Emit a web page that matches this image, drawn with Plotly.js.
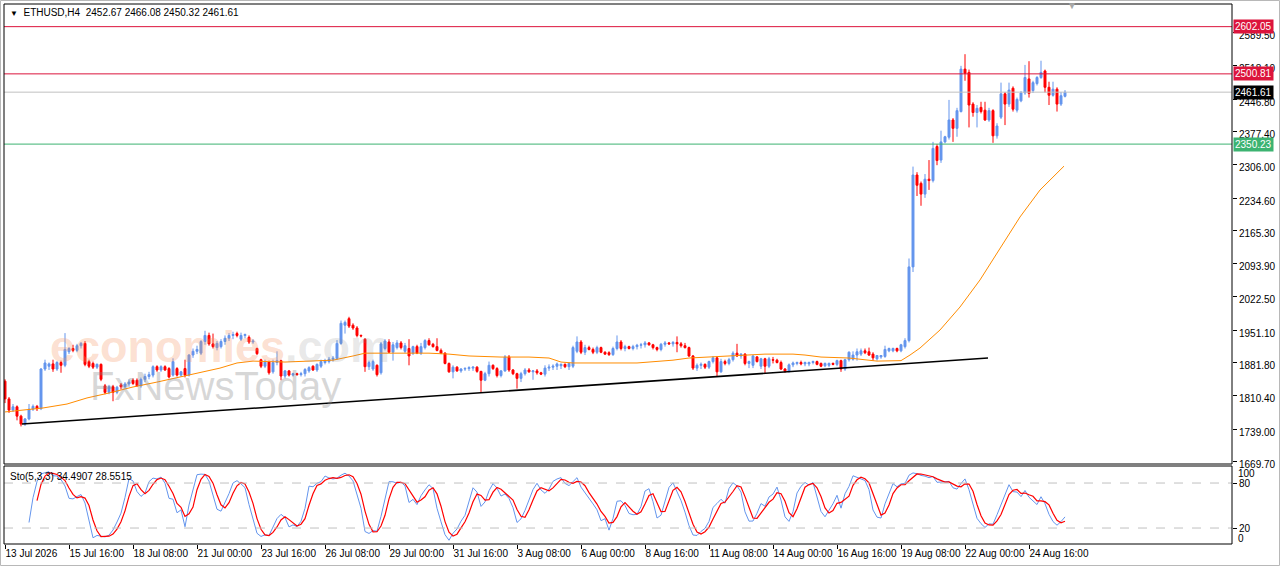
<!DOCTYPE html>
<html><head><meta charset="utf-8">
<script src="https://cdn.plot.ly/plotly-3.0.1.min.js"></script>
<style>html,body{margin:0;padding:0;background:#fff}#chart{width:1280px;height:567px}</style>
</head><body><div id="chart"></div>
<script>
// ---- data (ETHUSD H4 candles, index 0 = 13 Jul 2026 00:00) ----
const openP = [1842,1804,1780,1787,1767,1750,1761,1782,1788,1783,1868,1874,1879,1868,1882,1876,1905,1912,1908,1918,
1923,1884,1880,1872,1878,1832,1818,1830,1818,1834,1830,1836,1844,1844,1832,1846,1852,1855,1873,1866,
1873,1869,1855,1869,1855,1869,1855,1898,1906,1902,1927,1940,1922,1914,1916,1927,1934,1940,1944,1932,
1940,1936,1926,1912,1888,1874,1884,1862,1882,1886,1853,1864,1855,1858,1856,1858,1864,1874,1866,1874,
1882,1884,1889,1891,1923,1962,1976,1962,1956,1940,1932,1873,1868,1876,1860,1912,1926,1904,1914,1924,
1906,1912,1902,1916,1902,1914,1929,1921,1916,1908,1902,1880,1862,1872,1864,1868,1869,1870,1872,1863,
1844,1858,1876,1869,1854,1864,1894,1866,1858,1848,1858,1866,1862,1864,1860,1857,1870,1872,1874,1875,
1878,1873,1874,1906,1926,1904,1914,1910,1904,1914,1904,1903,1899,1912,1926,1912,1916,1912,1916,1919,
1920,1924,1920,1914,1910,1921,1924,1922,1925,1922,1918,1914,1896,1870,1876,1878,1872,1884,1892,1862,
1884,1880,1888,1902,1896,1900,1880,1876,1894,1874,1890,1874,1888,1887,1882,1868,1863,1877,1880,1882,
1879,1879,1882,1884,1880,1875,1876,1880,1878,1886,1868,1888,1889,1898,1900,1907,1905,1900,1890,1894,
1895,1907,1907,1912,1907,1916,1929,2087,2284,2266,2243,2275,2272,2345,2316,2355,2365,2402,2384,2420,
2511,2504,2436,2418,2429,2423,2402,2422,2368,2408,2458,2436,2470,2423,2443,2460,2490,2465,2480,2493,
2507,2472,2455,2468,2436,2452.67];
const highP = [1846,1808,1793,1790,1770,1763,1793,1792,1791,1870,1888,1882,1888,1885,1886,1945,1915,1920,1922,1926,
1928,1888,1884,1880,1880,1836,1834,1834,1832,1838,1840,1846,1848,1848,1850,1858,1862,1876,1876,1876,
1876,1872,1891,1872,1864,1888,1900,1912,1918,1930,1950,1946,1944,1928,1932,1940,1945,1948,1948,1946,
1944,1940,1932,1914,1890,1888,1886,1888,1906,1888,1866,1866,1860,1860,1862,1870,1874,1876,1880,1888,
1890,1894,1896,1930,1972,1972,1980,1966,1960,1942,1934,1886,1888,1878,1926,1932,1932,1926,1930,1928,
1924,1932,1918,1920,1924,1932,1934,1924,1934,1912,1904,1882,1876,1874,1870,1872,1874,1874,1874,1864,
1862,1884,1878,1872,1866,1898,1898,1868,1860,1862,1870,1870,1866,1868,1862,1876,1878,1878,1882,1880,
1880,1882,1918,1938,1930,1920,1918,1914,1918,1916,1906,1906,1916,1940,1930,1920,1918,1920,1922,1924,
1928,1926,1922,1916,1924,1928,1926,1928,1938,1926,1924,1916,1898,1880,1882,1880,1886,1896,1896,1890,
1888,1892,1906,1922,1902,1902,1886,1898,1896,1892,1892,1894,1894,1890,1886,1870,1880,1884,1884,1886,
1884,1884,1886,1886,1882,1882,1882,1882,1888,1888,1890,1906,1906,1912,1912,1912,1914,1904,1898,1898,
1918,1914,1914,1914,1922,1934,2105,2302,2290,2270,2286,2316,2355,2350,2379,2368,2445,2406,2428,2518,
2543,2510,2440,2434,2441,2441,2428,2425,2395,2482,2462,2482,2474,2450,2464,2520,2528,2486,2496,2529,
2510,2484,2484,2472,2462,2466.08];
const lowP = [1795,1774,1776,1758,1745,1746,1758,1778,1778,1780,1864,1866,1862,1864,1860,1872,1900,1904,1904,1912,
1874,1870,1868,1868,1842,1814,1814,1799,1814,1824,1826,1830,1834,1830,1828,1840,1846,1850,1862,1862,
1864,1848,1852,1852,1852,1850,1852,1892,1900,1898,1920,1918,1912,1908,1912,1920,1928,1932,1936,1928,
1934,1922,1922,1898,1870,1870,1856,1858,1876,1844,1848,1852,1852,1854,1852,1852,1860,1864,1862,1870,
1878,1880,1884,1888,1920,1944,1956,1952,1936,1936,1862,1866,1864,1852,1856,1908,1902,1886,1910,1910,
1902,1876,1898,1900,1898,1910,1918,1914,1906,1900,1878,1860,1848,1862,1860,1864,1864,1864,1860,1818,
1842,1852,1866,1850,1850,1862,1862,1855,1826,1840,1854,1860,1845,1856,1855,1852,1864,1866,1866,1868,
1870,1866,1870,1902,1900,1898,1908,1900,1900,1902,1898,1896,1896,1908,1908,1906,1910,1908,1910,1912,
1914,1918,1910,1906,1906,1916,1920,1916,1904,1914,1912,1894,1866,1864,1868,1868,1868,1880,1852,1860,
1876,1876,1884,1894,1890,1876,1870,1870,1882,1868,1858,1870,1880,1880,1866,1860,1860,1872,1876,1876,
1874,1874,1878,1876,1872,1872,1872,1876,1874,1862,1864,1884,1886,1886,1896,1900,1896,1886,1886,1890,
1892,1904,1904,1904,1904,1912,1925,2076,2239,2218,2235,2252,2268,2305,2310,2352,2360,2355,2366,2418,
2486,2386,2409,2386,2416,2400,2398,2353,2362,2404,2391,2430,2420,2418,2440,2456,2450,2460,2476,2490,
2461,2434,2452,2420,2432,2450.32];
const closeP = [1804,1780,1787,1767,1750,1761,1782,1788,1783,1868,1881,1879,1868,1882,1876,1910,1912,1908,1918,1923,
1878,1874,1872,1878,1846,1818,1830,1818,1829,1830,1836,1840,1837,1832,1846,1852,1856,1873,1866,1873,
1866,1851,1884,1855,1862,1855,1898,1906,1910,1927,1940,1922,1916,1923,1927,1934,1940,1942,1940,1940,
1942,1926,1928,1901,1874,1884,1860,1882,1886,1853,1864,1855,1858,1856,1858,1867,1871,1866,1878,1884,
1886,1889,1891,1923,1966,1968,1960,1956,1940,1939,1873,1882,1884,1856,1922,1928,1904,1920,1924,1914,
1918,1896,1916,1902,1916,1929,1920,1916,1908,1902,1880,1862,1872,1864,1868,1869,1871,1872,1863,1844,
1858,1876,1869,1854,1864,1894,1866,1858,1848,1858,1866,1862,1864,1860,1857,1870,1872,1874,1879,1878,
1873,1880,1914,1926,1904,1914,1910,1904,1914,1904,1900,1899,1912,1926,1912,1916,1912,1916,1919,1920,
1924,1920,1914,1910,1921,1924,1922,1925,1922,1918,1914,1896,1870,1876,1878,1872,1884,1892,1862,1884,
1880,1888,1902,1896,1900,1880,1884,1896,1884,1890,1874,1890,1887,1882,1868,1863,1877,1881,1882,1879,
1882,1882,1884,1878,1874,1880,1880,1878,1886,1868,1888,1904,1898,1905,1907,1903,1898,1892,1897,1897,
1910,1912,1912,1907,1920,1929,2087,2284,2262,2243,2275,2272,2341,2315,2355,2366,2402,2384,2422,2511,
2502,2434,2418,2427,2420,2402,2422,2368,2389,2458,2436,2466,2425,2446,2460,2493,2459,2482,2493,2504,
2472,2455,2468,2436,2454,2461.61];

// moving average (orange) read at sample candles
const maIdx = [0,9.5,15.5,20.5,26,32,38,43.75,48.75,53.75,58,62,70,82,87,90,106,111,116,124,131,136,139,142,158,162,167,171,176,183,190,197,200,204,211,218,224,226.25,228.75,233.75,238.75,243.75,248.75,253.75,258.75,264.75];
const maVal = [1776,1784.5,1793,1806,1816.6,1829.5,1840,1850.9,1859.5,1870,1881,1885,1883,1887,1896,1902,1902,1900,1896,1893.7,1893.7,1891.6,1883,1881,1881,1883,1887,1891.6,1893.7,1896,1900,1900,1898,1893.7,1891.6,1885,1886,1898,1913,1951.7,2001,2059,2127.5,2194,2251.8,2303];

// trend line end points (candle index, price)
const trendIdx = [4.25, 245.75];
const trendVal = [1750, 1891.6];

// horizontal levels
const levelVals = [2602.05, 2500.81, 2461.61, 2350.23];
const levelColors = ['#DC143C','#DC143C','#C0C0C0','#3CB371'];
const levelLabelBg = ['#DC143C','#DC143C','#000000','#3CB371'];

// axis ticks
const priceTicks = [2589.50,2518.10,2446.80,2377.40,2306.00,2234.60,2165.30,2093.90,2022.50,1951.10,1881.80,1810.40,1739.00,1669.70];
const timeTickIdx = [0,16,32,48,64,80,96,112,128,144,160,176,192,208,224,240,256];
const timeTickText = ['13 Jul 2026','15 Jul 16:00','18 Jul 08:00','21 Jul 00:00','23 Jul 16:00','26 Jul 08:00','29 Jul 00:00','31 Jul 16:00','3 Aug 08:00','6 Aug 00:00','8 Aug 16:00','11 Aug 08:00','14 Aug 00:00','16 Aug 16:00','19 Aug 08:00','22 Aug 00:00','24 Aug 16:00'];

// ---- build ----
const n = closeP.length;
const idx = closeP.map((_, i) => i);

// Stochastic(5,3,3) from candles
const kP = 5, slow = 3, dP = 3;
const num = [], den = [];
for (let i = 0; i < n; i++) {
  if (i < kP - 1) { num.push(null); den.push(null); continue; }
  let ll = Infinity, hh = -Infinity;
  for (let j = i - kP + 1; j <= i; j++) { ll = Math.min(ll, lowP[j]); hh = Math.max(hh, highP[j]); }
  num.push(closeP[i] - ll); den.push(hh - ll);
}
const stMain = [], stSig = [];
for (let i = 0; i < n; i++) {
  if (i < kP - 1 + slow - 1) { stMain.push(null); continue; }
  let a = 0, b = 0;
  for (let j = i - slow + 1; j <= i; j++) { a += num[j]; b += den[j]; }
  stMain.push(b > 0 ? 100 * a / b : 100);
}
for (let i = 0; i < n; i++) {
  if (i < kP - 1 + slow - 1 + dP - 1) { stSig.push(null); continue; }
  let s = 0;
  for (let j = i - dP + 1; j <= i; j++) s += stMain[j];
  stSig.push(s / dP);
}

const F = 'Liberation Sans, Arial, sans-serif';
const traces = [
  {type:'scatter', mode:'lines', x:maIdx, y:maVal, xaxis:'x', yaxis:'y',
   line:{color:'#FF8C00', width:1}, hoverinfo:'skip'},
  {type:'candlestick', x:idx, open:openP, high:highP, low:lowP, close:closeP, xaxis:'x', yaxis:'y',
   increasing:{line:{color:'#6495ED', width:1}, fillcolor:'#6495ED'},
   decreasing:{line:{color:'#FF0000', width:1}, fillcolor:'#FF0000'},
   whiskerwidth:0, hoverinfo:'skip'},
  {type:'scatter', mode:'lines', x:idx, y:stMain, xaxis:'x', yaxis:'y2',
   line:{color:'#6495ED', width:1}, hoverinfo:'skip'},
  {type:'scatter', mode:'lines', x:idx, y:stSig, xaxis:'x', yaxis:'y2',
   line:{color:'#FF0000', width:1.2}, hoverinfo:'skip'}
];

const mainDom = [80/540, 1];
const stoDom = [0, 78/540];

const shapes = [];
levelVals.forEach((v, k) => shapes.push({type:'line', xref:'paper', x0:0, x1:1, yref:'y', y0:v, y1:v,
  line:{color:levelColors[k], width:1}}));
shapes.push({type:'line', xref:'x', yref:'y', x0:trendIdx[0], x1:trendIdx[1], y0:trendVal[0], y1:trendVal[1],
  line:{color:'#000000', width:1.6}});
[80, 20].forEach(v => shapes.push({type:'line', xref:'paper', x0:0, x1:1, yref:'y2', y0:v, y1:v,
  line:{color:'#C0C0C0', width:1, dash:'dash'}}));
shapes.push({type:'rect', xref:'paper', yref:'paper', x0:0, x1:1, y0:mainDom[0], y1:1, line:{color:'#000', width:1}});
shapes.push({type:'rect', xref:'paper', yref:'paper', x0:0, x1:1, y0:0, y1:stoDom[1], line:{color:'#000', width:1}});
shapes.push({type:'rect', xref:'paper', yref:'paper', x0:-3.5/1228, x1:1275.5/1228, y0:-21.5/540, y1:543.5/540,
  line:{color:'#B8B8B8', width:1}});

const annotations = [];
levelVals.forEach((v, k) => annotations.push({xref:'paper', x:1, xanchor:'left', xshift:1, yref:'y', y:v, yanchor:'middle',
  text:v.toFixed(2), showarrow:false, bgcolor:levelLabelBg[k], borderpad:1,
  font:{family:F, size:10, color:'#FFFFFF'}}));
annotations.push({xref:'paper', yref:'paper', x:4/1228, y:532/540, xanchor:'left', yanchor:'middle', showarrow:false,
  text:'<span style="font-size:8px">▼</span>\u00a0 ETHUSD,H4\u00a0\u00a02452.67 2466.08 2450.32 2461.61',
  font:{family:F, size:10, color:'#000'}});
annotations.push({xref:'paper', yref:'paper', x:1068/1228, y:538/540, xanchor:'center', yanchor:'middle', showarrow:false,
  text:'▼', font:{family:F, size:10, color:'#A8A8A8'}});
annotations.push({xref:'paper', yref:'paper', x:4/1228, y:68/540, xanchor:'left', yanchor:'middle', showarrow:false,
  text:'Sto(5,3,3) 34.4907 28.5515', font:{family:F, size:10, color:'#000'}});
annotations.push({xref:'paper', yref:'paper', x:1, xshift:4, y:71/540, xanchor:'left', yanchor:'middle', showarrow:false,
  text:'100', font:{family:F, size:10, color:'#000'}});
annotations.push({xref:'paper', yref:'paper', x:1, xshift:4, y:6/540, xanchor:'left', yanchor:'middle', showarrow:false,
  text:'0', font:{family:F, size:10, color:'#000'}});
annotations.push({xref:'paper', yref:'paper', x:44/1228, y:(544-346)/540, xanchor:'left', yanchor:'middle', showarrow:false,
  text:'<b><span style="color:rgba(247,150,100,0.55)">economies</span><span style="color:rgba(140,140,140,0.35)">.com</span></b>',
  font:{family:F, size:45, color:'rgba(247,150,100,0.55)'}});
annotations.push({xref:'paper', yref:'paper', x:84/1228, y:(544-386)/540, xanchor:'left', yanchor:'middle', showarrow:false,
  text:'FxNewsToday', font:{family:F, size:40, color:'rgba(140,140,140,0.35)'}});

const layout = {
  width:1280, height:567,
  margin:{l:4, r:48, t:4, b:23},
  paper_bgcolor:'#FFFFFF', plot_bgcolor:'#FFFFFF',
  showlegend:false,
  xaxis:{domain:[0,1], range:[-0.25, 306.75], anchor:'y2', showgrid:false, zeroline:false,
    tickmode:'array', tickvals:timeTickIdx, ticktext:timeTickText, ticks:'outside', ticklen:4, tickcolor:'#000',
    tickangle:0, ticklabelposition:'outside right', tickfont:{family:F, size:10, color:'#000'},
    rangeslider:{visible:false}, showline:false, fixedrange:true},
  yaxis:{domain:mainDom, range:[1664.4, 2650.6], anchor:'x', side:'right', showgrid:false, zeroline:false,
    tickmode:'array', tickvals:priceTicks, ticktext:priceTicks.map(v => v.toFixed(2)), ticks:'outside', ticklen:4,
    ticklabelshift:3,
    tickcolor:'#000', tickfont:{family:F, size:10, color:'#000'}, showline:false, fixedrange:true},
  yaxis2:{domain:stoDom, range:[-1.3, 102.7], anchor:'x', side:'right', showgrid:false, zeroline:false,
    tickmode:'array', tickvals:[80,20], ticktext:['80','20'], ticks:'outside', ticklen:4, tickcolor:'#000',
    tickfont:{family:F, size:10, color:'#000'}, showline:false, fixedrange:true},
  shapes:shapes,
  annotations:annotations
};

Plotly.newPlot('chart', traces, layout, {staticPlot:true, displayModeBar:false});
</script>
</body></html>
